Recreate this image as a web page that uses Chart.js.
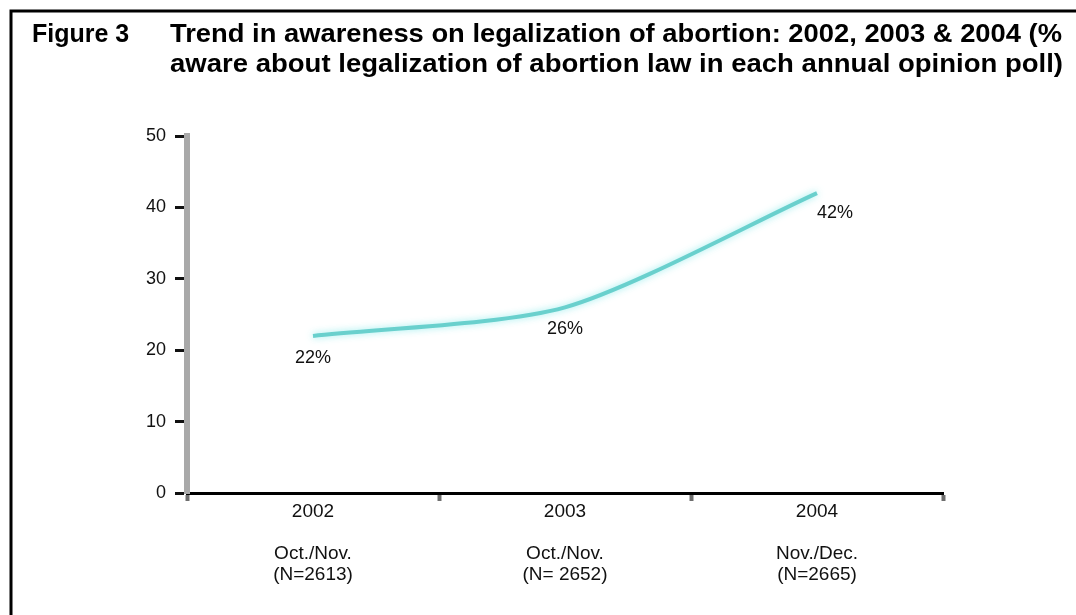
<!DOCTYPE html>
<html>
<head>
    <script src="https://cdn.jsdelivr.net/npm/chart.js@4.4.0/dist/chart.umd.min.js"></script>
    <style>
        body { margin: 0; background: #fff; }
    </style>
</head>
<body>

    <canvas id="awarenessChart" width="1076" height="615"></canvas>

    <script>
        // Survey rounds and % aware of the abortion law
        const years = ['2002', '2003', '2004'];
        const periods = ['Oct./Nov.', 'Oct./Nov.', 'Nov./Dec.'];
        const sampleSizes = ['(N=2613)', '(N= 2652)', '(N=2665)'];
        const awareness = [22, 26, 42];

        const yMax = 50;
        const yStep = 10;

        const figureLabel = 'Figure 3';
        const titleLines = [
            'Trend in awareness on legalization of abortion: 2002, 2003 & 2004 (%',
            'aware about legalization of abortion law in each annual opinion poll)'
        ];

        const xLabels = years.map((y, i) => [y, '', periods[i], sampleSizes[i]]);

        // draw text stretched/squeezed to a given width
        function fitText(ctx, text, x, y, width) {
            const w = ctx.measureText(text).width;
            ctx.save();
            ctx.translate(x, y);
            ctx.scale(width / w, 1);
            ctx.fillText(text, 0, 0);
            ctx.restore();
        }

        // frame + heading, drawn straight on the canvas
        const framePlugin = {
            id: 'frame',
            beforeDraw(chart) {
                const ctx = chart.ctx;
                ctx.save();
                ctx.fillStyle = '#fff';
                ctx.fillRect(0, 0, chart.width, chart.height);
                ctx.strokeStyle = '#000';
                ctx.lineWidth = 3;
                ctx.beginPath();
                ctx.moveTo(11, chart.height);
                ctx.lineTo(11, 11);
                ctx.lineTo(chart.width, 11);
                ctx.stroke();

                ctx.fillStyle = '#000';
                ctx.font = 'bold 25px "Liberation Sans", Arial, sans-serif';
                ctx.textBaseline = 'alphabetic';
                ctx.textAlign = 'left';
                ctx.fillText(figureLabel, 32, 42);
                fitText(ctx, titleLines[0], 170, 42, 892);
                fitText(ctx, titleLines[1], 170, 72, 893);
                ctx.restore();
            }
        };

        // soft cyan glow under the line
        const glowPlugin = {
            id: 'glow',
            beforeDatasetsDraw(chart) {
                const ctx = chart.ctx;
                ctx.save();
                ctx.shadowColor = 'rgba(140, 235, 235, 0.9)';
                ctx.shadowBlur = 7;
            },
            afterDatasetsDraw(chart) {
                chart.ctx.restore();
            }
        };

        // percentage labels beside each point
        const valueLabels = {
            id: 'valueLabels',
            afterDatasetsDraw(chart) {
                const ctx = chart.ctx;
                const meta = chart.getDatasetMeta(0);
                ctx.save();
                ctx.fillStyle = '#111';
                ctx.font = '18px "Liberation Sans", Arial, sans-serif';
                ctx.textAlign = 'center';
                ctx.textBaseline = 'middle';
                meta.data.forEach((pt, i) => {
                    const last = i === meta.data.length - 1;
                    const dx = last ? 18 : 0;
                    const dy = last ? 20 : 22;
                    ctx.fillText(awareness[i] + '%', pt.x + dx, pt.y + dy);
                });
                ctx.restore();
            }
        };

        const ctx = document.getElementById('awarenessChart').getContext('2d');

        new Chart(ctx, {
            type: 'line',
            data: {
                labels: xLabels,
                datasets: [{
                    label: '% aware',
                    data: awareness,
                    borderColor: 'rgb(105, 208, 205)',
                    borderWidth: 4,
                    pointRadius: 0,
                    tension: 0.25,
                    fill: false
                }]
            },
            options: {
                responsive: false,
                animation: false,
                layout: {
                    padding: { left: 0, top: 136, right: 133, bottom: 0 }
                },
                plugins: {
                    legend: { display: false },
                    title: { display: false },
                    tooltip: { enabled: false }
                },
                scales: {
                    x: {
                        offset: true,
                        afterFit: s => { s.height = 122; },
                        grid: {
                            offset: true,
                            drawOnChartArea: false,
                            drawTicks: true,
                            tickLength: 8,
                            tickWidth: 4,
                            tickColor: '#6e6e6e'
                        },
                        border: { color: '#000', width: 3 },
                        ticks: {
                            color: '#111',
                            padding: 0,
                            maxRotation: 0,
                            autoSkip: false,
                            font: { family: '"Liberation Sans", Arial, sans-serif', size: 19, lineHeight: 1.105 }
                        }
                    },
                    y: {
                        min: 0,
                        max: yMax,
                        afterFit: s => { s.width = 187; },
                        grid: {
                            drawOnChartArea: false,
                            drawTicks: true,
                            tickLength: 12,
                            tickWidth: 3,
                            tickColor: '#111'
                        },
                        border: { color: '#a9a9a9', width: 6 },
                        ticks: {
                            stepSize: yStep,
                            color: '#111',
                            padding: 9,
                            font: { family: '"Liberation Sans", Arial, sans-serif', size: 18 }
                        }
                    }
                }
            },
            plugins: [framePlugin, glowPlugin, valueLabels]
        });
    </script>
</body>
</html>
